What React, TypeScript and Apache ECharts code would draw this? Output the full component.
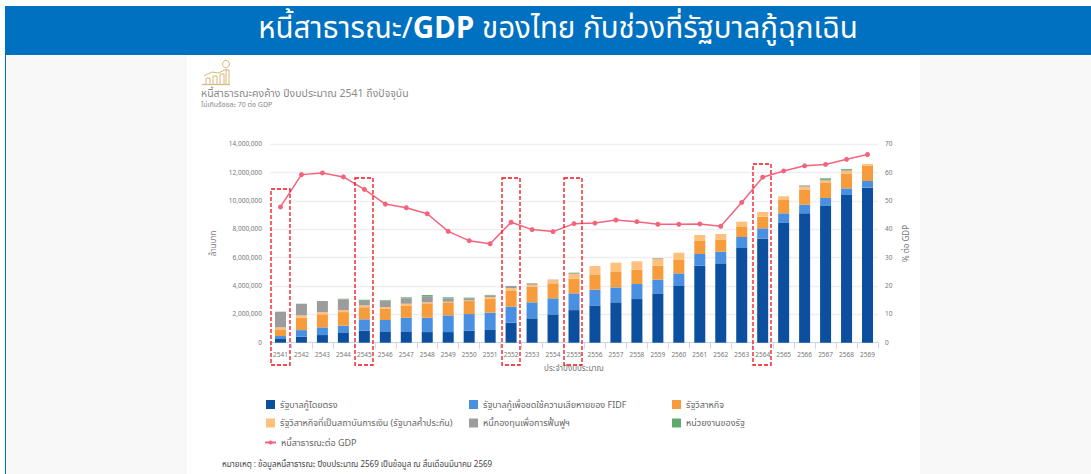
import React, { useEffect, useRef } from "react";
import * as echarts from "echarts";

const years = ["2541","2542","2543","2544","2545","2546","2547","2548","2549","2550","2551","2552","2553","2554","2555","2556","2557","2558","2559","2560","2561","2562","2563","2564","2565","2566","2567","2568","2569"];
const direct = [260000,420000,540000,730000,850000,800000,800000,750000,750000,850000,940000,1410000,1720000,2000000,2300000,2630000,2850000,3080000,3480000,4000000,5440000,5600000,6680000,7360000,8450000,9130000,9650000,10420000,10940000];
const rdf = [210000,470000,540000,470000,800000,800000,960000,1010000,1180000,1170000,1180000,1130000,1130000,1130000,1180000,1110000,1050000,1060000,970000,890000,820000,820000,780000,710000,680000,610000,560000,470000,470000];
const soe = [470000,870000,920000,960000,850000,820000,870000,1020000,920000,920000,960000,1110000,1100000,1060000,1040000,1080000,1090000,1010000,990000,990000,920000,870000,750000,820000,940000,1040000,1060000,1060000,1080000];
const fin = [140000,170000,160000,140000,130000,100000,120000,70000,40000,50000,140000,210000,140000,230000,330000,590000,660000,590000,460000,470000,420000,380000,330000,330000,260000,230000,170000,190000,120000];
const fidf = [1110000,820000,780000,760000,330000,420000,380000,400000,240000,140000,120000,140000,100000,30000,40000,0,0,0,50000,0,0,0,0,0,0,90000,60000,60000,0];
const agency = [0,0,0,40000,70000,50000,70000,110000,70000,50000,30000,0,0,0,50000,0,0,0,10000,0,0,0,0,0,0,0,100000,60000,0];
const debtToGdp = [47.9,59.3,59.9,58.5,54.1,48.9,47.6,45.5,39.3,36.0,34.9,42.5,39.9,39.2,42.0,42.2,43.3,42.7,41.8,41.8,41.9,41.1,49.5,58.4,60.6,62.4,62.9,64.7,66.4];

const leftTicks = [0,2000000,4000000,6000000,8000000,10000000,12000000,14000000];

const N_DIRECT = "รัฐบาลกู้โดยตรง";
const N_RDF = "รัฐบาลกู้เพื่อชดใช้ความเสียหายของ FIDF";
const N_SOE = "รัฐวิสาหกิจ";
const N_FIN = "รัฐวิสาหกิจที่เป็นสถาบันการเงิน (รัฐบาลค้ำประกัน)";
const N_FIDF = "หนี้กองทุนเพื่อการฟื้นฟูฯ";
const N_AGENCY = "หน่วยงานของรัฐ";
const N_LINE = "หนี้สาธารณะต่อ GDP";

const FONT = '"Noto Sans Thai","Noto Sans Thai Looped","Noto Sans","DejaVu Sans",sans-serif';

export default function App() {
  const ref = useRef<HTMLDivElement>(null);
  useEffect(() => {
    document.body.style.margin = "0";
    const chart = echarts.init(ref.current!, undefined, { renderer: "svg" });
    const bar = (name: string, data: number[], color: string) => ({
      name, type: "bar", stack: "debt", data, barWidth: 11, itemStyle: { color },
    });
    const legendBase = {
      orient: "vertical", top: 395, itemWidth: 9, itemHeight: 9, itemGap: 9.5, itemStyle: { borderWidth: 0 },
      textStyle: { fontSize: 9, color: "#666", fontFamily: FONT },
    };
    const sq = (name: string) => ({ name, icon: "rect" });
    const gold = "#d8b97c";
    const dash = (x: number, y: number, w: number, h: number) => ({
      type: "rect", shape: { x, y, width: w, height: h }, z: 20,
      style: { fill: "none", stroke: "#f01018", lineWidth: 1.3, lineDash: [4, 2] },
    });
    chart.setOption({
      animation: false,
      backgroundColor: "#ffffff",
      textStyle: { fontFamily: FONT },
      title: {
        left: 553, top: 9, textAlign: "center",
        text: "{a|หนี้สาธารณะ/}{b|GDP}{a| ของไทย กับช่วงที่รัฐบาลกู้ฉุกเฉิน}",
        textStyle: {
          fontWeight: "normal",
          rich: {
            a: { fontSize: 29.5, color: "#fff", fontWeight: "normal", fontFamily: FONT },
            b: { fontSize: 29.5, color: "#fff", fontWeight: "bold", fontFamily: FONT },
          },
        },
      },
      graphic: [
        { type: "rect", z: -10, shape: { x: 5, y: 55, width: 1086, height: 419 }, style: { fill: "#f8f8f8" } },
        { type: "rect", z: -9, shape: { x: 187, y: 55, width: 733, height: 419 }, style: { fill: "#ffffff" } },
        { type: "rect", z: -8, shape: { x: 5, y: 6, width: 1086, height: 49 }, style: { fill: "#0070c0" } },
        { type: "rect", z: -8, shape: { x: 5, y: 55, width: 1, height: 419 }, style: { fill: "#0070c0" } },
        { type: "line", shape: { x1: 202, y1: 84.5, x2: 230, y2: 84.5 }, style: { stroke: gold, lineWidth: 1.2 } },
        { type: "rect", shape: { x: 206, y: 78, width: 4, height: 6.5 }, style: { fill: "none", stroke: gold, lineWidth: 1 } },
        { type: "rect", shape: { x: 213, y: 76, width: 4, height: 8.5 }, style: { fill: "none", stroke: gold, lineWidth: 1 } },
        { type: "rect", shape: { x: 220, y: 74, width: 4, height: 10.5 }, style: { fill: "none", stroke: gold, lineWidth: 1 } },
        { type: "polyline", shape: { points: [[204, 76], [212, 72], [218, 73], [227, 69]] }, style: { fill: "none", stroke: gold, lineWidth: 1 } },
        { type: "rect", shape: { x: 226, y: 70, width: 3, height: 14.5 }, style: { fill: "none", stroke: gold, lineWidth: 1 } },
        { type: "circle", shape: { cx: 226, cy: 64, r: 3.5 }, style: { fill: "none", stroke: gold, lineWidth: 1 } },
        { type: "text", x: 201, y: 88, style: { text: "หนี้สาธารณะคงค้าง ปีงบประมาณ 2541 ถึงปัจจุบัน", fontSize: 10.5, fill: "#8a8a8a", fontFamily: FONT } },
        { type: "text", x: 201, y: 101, style: { text: "ไม่เกินร้อยละ 70 ต่อ GDP", fontSize: 7, fill: "#8a8a8a", fontFamily: FONT } },
        { type: "text", x: 222, y: 461, style: { text: "หมายเหตุ : ข้อมูลหนี้สาธารณะ ปีงบประมาณ 2569 เป็นข้อมูล ณ สิ้นเดือนมีนาคม 2569", fontSize: 8, fill: "#444", fontFamily: FONT } },
        dash(271, 189, 19, 176),
        dash(355, 178, 18, 187),
        dash(502, 178, 18, 187),
        dash(564, 178, 18, 187),
        dash(753, 164, 18, 201),
      ],
      legend: [
        { ...legendBase, left: 261, data: [sq(N_DIRECT), sq(N_FIN)] },
        { ...legendBase, left: 259, top: 433, itemWidth: 11, itemHeight: 5, data: [{ name: N_LINE }] },
        { ...legendBase, left: 464, data: [sq(N_RDF), sq(N_FIDF)] },
        { ...legendBase, left: 667, data: [sq(N_SOE), sq(N_AGENCY)] },
      ],
      grid: { left: 270, right: 213, top: 144.3, height: 198.4 },
      xAxis: {
        type: "category", data: years,
        name: "ประจำปีงบประมาณ", nameLocation: "middle", nameGap: 22,
        nameTextStyle: { fontSize: 8, color: "#777" },
        axisLine: { lineStyle: { color: "#ccd6eb" } },
        axisTick: { show: true, alignWithLabel: false, length: 6, lineStyle: { color: "#ccd6eb" } },
        axisLabel: { interval: 0, fontSize: 6.5, color: "#777", margin: 9 },
      },
      yAxis: [
        {
          type: "value", min: 0, max: leftTicks[leftTicks.length - 1], interval: leftTicks[1],
          name: "ล้านบาท", nameLocation: "middle", nameGap: 41,
          nameTextStyle: { fontSize: 8, color: "#777" },
          axisLabel: { fontSize: 6.5, color: "#777", formatter: (v: number) => v.toLocaleString("en-US") },
          splitLine: { lineStyle: { color: "#efefef", width: 1.4 } },
        },
        {
          type: "value", min: 0, max: 70, interval: 10,
          name: "% ต่อ GDP", nameLocation: "middle", nameGap: 19,
          nameTextStyle: { fontSize: 8, color: "#777" },
          axisLabel: { fontSize: 6.5, color: "#777", margin: 7 },
          splitLine: { show: false },
        },
      ],
      series: [
        bar(N_DIRECT, direct, "#0b4f9e"),
        bar(N_RDF, rdf, "#4a90e2"),
        bar(N_SOE, soe, "#f79c3d"),
        bar(N_FIN, fin, "#fdc07d"),
        bar(N_FIDF, fidf, "#9c9c9c"),
        bar(N_AGENCY, agency, "#5fa86e"),
        {
          name: N_LINE, type: "line", yAxisIndex: 1, data: debtToGdp, z: 10,
          symbol: "circle", symbolSize: 5,
          lineStyle: { color: "#f4647c", width: 1.5 }, itemStyle: { color: "#f4647c" },
        },
      ],
    });
    return () => chart.dispose();
  }, []);
  return <div ref={ref} style={{ width: 1091, height: 474 }} />;
}
